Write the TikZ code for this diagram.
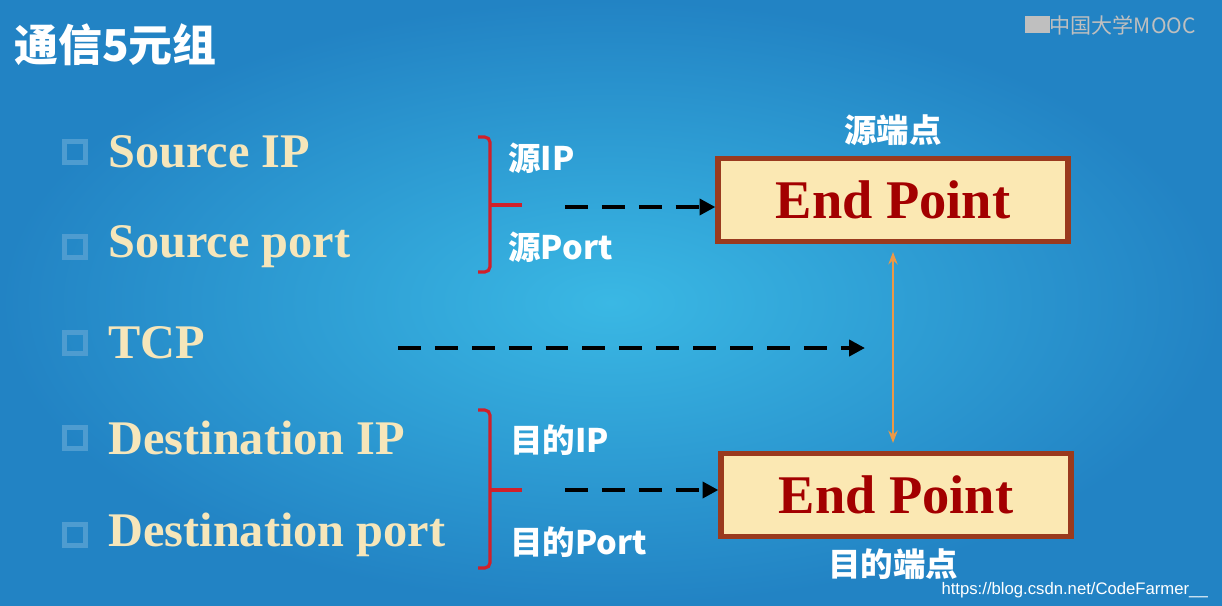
\documentclass[tikz,border=0pt]{standalone}
\usepackage{fontspec}
\setmainfont{Liberation Serif}
\setsansfont{Liberation Sans}
\newfontfamily\cjk{Noto Sans CJK SC}
\usetikzlibrary{arrows.meta}
\definecolor{bgin}{HTML}{3AB8E4}
\definecolor{bgout}{HTML}{2283C4}
\definecolor{cream}{HTML}{F6E6BA}
\definecolor{boxfill}{HTML}{FBE8B3}
\definecolor{boxline}{HTML}{9A3A1E}
\definecolor{dred}{HTML}{A30000}
\definecolor{brk}{HTML}{D0202A}
\begin{document}
\begin{tikzpicture}[x=0.02cm,y=-0.02cm,
  item/.style={anchor=west,text=cream,font=\fontsize{27.5}{30}\selectfont\bfseries,inner sep=0},
  sq/.style={draw=bgout!80!white,line width=3pt,minimum size=0.42cm,inner sep=0},
  lab/.style={anchor=west,text=white,font=\cjk\fontsize{18.5}{20}\selectfont\bfseries,inner sep=0},
  ep/.style={draw=boxline,fill=boxfill,line width=3pt,minimum width=7cm,minimum height=1.66cm,text=dred,font=\fontsize{31}{33}\selectfont\bfseries},
  dasharrow/.style={line width=2.4pt,dash pattern=on 13pt off 8pt,-{Triangle[length=9pt,width=9pt]}},
  br/.style={draw=brk,line width=1.8pt,rounded corners=3pt}]
\shade[inner color=bgin,outer color=bgout] (0,0) rectangle (1222,605);
\useasboundingbox (0,0) rectangle (1222,605);
\node[anchor=west,text=white,font=\cjk\fontsize{25}{28}\selectfont\bfseries] (title) at (8,45) {通信5元组};
\node[anchor=east,text=gray!50!white,font=\cjk\fontsize{12}{13}\selectfont] (logo) at (1202,25) {\rule{0.5cm}{0.35cm}中国大学MOOC};
\foreach \y/\t/\n in {152/Source IP/a,247/Source port/b,343/TCP/c,438/Destination IP/d,535/Destination port/e}{
  \node[sq] (s\n) at (75,\y) {};
  \node[item] (t\n) at (108,\y) {\t};
}
\draw[br] (478,137) -- (490,137) -- (490,272) -- (478,272);
\draw[br] (490,205) -- (522,205);
\draw[br] (478,410) -- (490,410) -- (490,568) -- (478,568);
\draw[br] (490,490) -- (522,490);
\node[lab] (l1) at (508,158) {源IP};
\node[lab] (l2) at (508,247) {源Port};
\node[lab] (l3) at (510,440) {目的IP};
\node[lab] (l4) at (510,542) {目的Port};
\node[ep] (ep1) at (893,200) {End Point};
\node[ep] (ep2) at (896,495) {End Point};
\node[text=white,font=\cjk\fontsize{18.5}{20}\selectfont\bfseries] (sl) at (893,130) {源端点};
\node[text=white,font=\cjk\fontsize{18.5}{20}\selectfont\bfseries] (dl) at (893,564) {目的端点};
\coordinate (d1) at (565,207);
\coordinate (d2) at (398,348); \coordinate (d2e) at (865,348);
\coordinate (d3) at (565,490);
\coordinate (va) at (893,252); \coordinate (vb) at (893,443);
\draw[dasharrow] (d1) -- (d1 -| ep1.west);
\draw[dasharrow] (d2) -- (d2e);
\draw[dasharrow] (d3) -- (d3 -| ep2.west);
\draw[{Stealth[length=7pt]}-{Stealth[length=7pt]},draw=orange!60!brown!80!white,line width=1.5pt] (va) -- (vb);
\node[anchor=east,text=white,font=\sffamily\fontsize{9.5}{10}\selectfont] (wm) at (1214,590) {https://blog.csdn.net/CodeFarmer\_\_};
\end{tikzpicture}
\end{document}
